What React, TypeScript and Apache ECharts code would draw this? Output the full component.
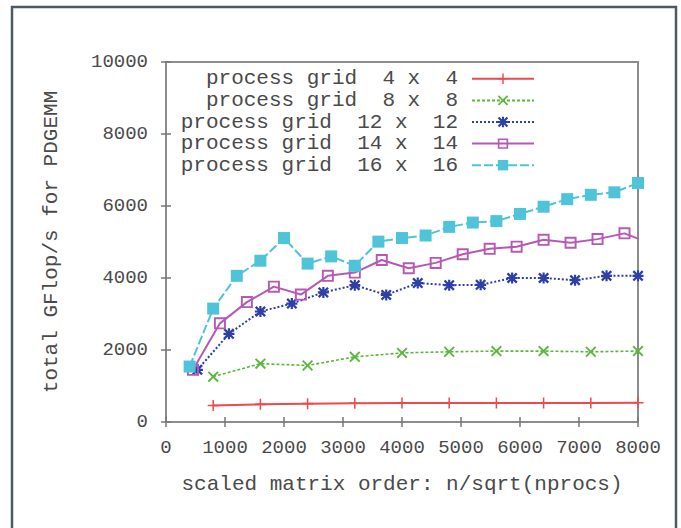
import React, { useEffect, useRef } from "react";
import * as echarts from "echarts";

// Scaled matrix order n/sqrt(nprocs) and total GFlop/s per process grid
const grid4x4X = [800, 1600, 2400, 3200, 4000, 4800, 5600, 6400, 7200, 8000];
const grid4x4Y = [460, 490, 510, 520, 525, 525, 530, 530, 530, 535];

const grid8x8X = [800, 1600, 2400, 3200, 4000, 4800, 5600, 6400, 7200, 8000];
const grid8x8Y = [1260, 1620, 1570, 1810, 1920, 1950, 1970, 1970, 1950, 1970];

const grid12x12X = [533, 1067, 1600, 2133, 2667, 3200, 3733, 4267, 4800, 5333, 5867, 6400, 6933, 7467, 8000];
const grid12x12Y = [1450, 2450, 3070, 3290, 3600, 3800, 3530, 3860, 3800, 3810, 4000, 4000, 3940, 4060, 4060];

const grid14x14X = [457, 914, 1371, 1829, 2286, 2743, 3200, 3657, 4114, 4571, 5029, 5486, 5943, 6400, 6857, 7314, 7771, 8229];
const grid14x14Y = [1450, 2740, 3330, 3760, 3540, 4060, 4150, 4500, 4270, 4420, 4660, 4810, 4870, 5060, 4980, 5080, 5240, 4950];

const grid16x16X = [400, 800, 1200, 1600, 2000, 2400, 2800, 3200, 3600, 4000, 4400, 4800, 5200, 5600, 6000, 6400, 6800, 7200, 7600, 8000];
const grid16x16Y = [1540, 3150, 4060, 4480, 5110, 4400, 4600, 4340, 5010, 5110, 5180, 5420, 5540, 5580, 5780, 5980, 6190, 6310, 6380, 6640];

const seriesNames = [
  "process grid  4 x  4",
  "process grid  8 x  8",
  "process grid  12 x  12",
  "process grid  14 x  14",
  "process grid  16 x  16",
];

const xTitle = "scaled matrix order: n/sqrt(nprocs)";
const yTitle = "total GFlop/s for PDGEMM";

const MONO = "'Liberation Mono', 'DejaVu Sans Mono', monospace";

const pair = (xs: number[], ys: number[]) => xs.map((x, i) => [x, ys[i]]);

// gnuplot-style point glyphs
const PLUS = "path://M4.3,0H5.7V10H4.3ZM0,4.3H10V5.7H0Z";
const CROSS = "path://M0,1.2L1.2,0L5,3.8L8.8,0L10,1.2L6.2,5L10,8.8L8.8,10L5,6.2L1.2,10L0,8.8L3.8,5Z";
const STAR = "path://M0,1.5L1.5,0L5,3.5L8.5,0L10,1.5L6.5,5L10,8.5L8.5,10L5,6.5L1.5,10L0,8.5L3.5,5ZM4,0H6V10H4ZM0,4H10V6H0Z";
const OPEN_SQUARE = "path://M0,0H10V10H0ZM1.6,1.6V8.4H8.4V1.6Z";

export default function App() {
  const ref = useRef<HTMLDivElement>(null);

  useEffect(() => {
    document.body.style.margin = "0";
    if (!ref.current) return;
    const chart = echarts.init(ref.current, null, { renderer: "svg" });

    const mk = (
      idx: number,
      xs: number[],
      ys: number[],
      color: string,
      symbol: string,
      symbolSize: number,
      type: any,
      width: number
    ) => ({
      name: seriesNames[idx],
      type: "line",
      data: pair(xs, ys),
      xAxisIndex: 0,
      yAxisIndex: 0,
      symbol,
      symbolSize,
      showSymbol: true,
      clip: true,
      itemStyle: { color, opacity: 1 },
      lineStyle: { color, width, type },
      emphasis: { disabled: true },
      z: 2 + idx,
    });

    const axisLabelStyle = {
      fontFamily: MONO,
      fontSize: 19,
      color: "#4a4a4a",
      formatter: (v: number) => String(v),
    };

    const tick = { show: true, inside: true, length: 5, lineStyle: { color: "#777", width: 1.5 } };
    const line = { show: true, lineStyle: { color: "#8c8c8c", width: 2 } };

    chart.setOption({
      animation: false,
      backgroundColor: "#ffffff",
      grid: {
        left: 166,
        right: 43,
        top: 62,
        bottom: 106,
        show: true,
        borderColor: "#8c8c8c",
        borderWidth: 2,
        backgroundColor: "transparent",
      },
      graphic: [
        {
          type: "rect",
          shape: { x: 12, y: 7, width: 664, height: 540 },
          style: { fill: "none", stroke: "#4b5b66", lineWidth: 2.5 },
          z: 100,
        },
      ],
      legend: {
        orient: "vertical",
        align: "right",
        right: 146,
        top: 68,
        padding: 0,
        itemGap: 0,
        itemWidth: 62,
        itemHeight: 13,
        selectedMode: false,
        textStyle: {
          fontFamily: MONO,
          fontSize: 21,
          color: "#4a4a4a",
          lineHeight: 21.6,
          padding: [0, 9, 0, 0],
        },
        data: seriesNames,
      },
      xAxis: [
        {
          type: "value",
          position: "bottom",
          min: 0,
          max: 8000,
          interval: 1000,
          name: xTitle,
          nameLocation: "middle",
          nameGap: 52,
          nameTextStyle: { fontFamily: MONO, fontSize: 21, color: "#4a4a4a" },
          axisLine: line,
          axisTick: tick,
          axisLabel: { ...axisLabelStyle, margin: 16 },
          splitLine: { show: false },
        },
        {
          type: "value",
          position: "top",
          min: 0,
          max: 8000,
          interval: 1000,
          axisLine: line,
          axisTick: tick,
          axisLabel: { show: false },
          splitLine: { show: false },
        },
      ],
      yAxis: [
        {
          type: "value",
          position: "left",
          min: 0,
          max: 10000,
          interval: 2000,
          name: yTitle,
          nameLocation: "middle",
          nameGap: 104,
          nameTextStyle: { fontFamily: MONO, fontSize: 21, color: "#4a4a4a" },
          axisLine: line,
          axisTick: tick,
          axisLabel: { ...axisLabelStyle, margin: 18 },
          splitLine: { show: false },
        },
        {
          type: "value",
          position: "right",
          min: 0,
          max: 10000,
          interval: 2000,
          axisLine: line,
          axisTick: tick,
          axisLabel: { show: false },
          splitLine: { show: false },
        },
      ],
      series: [
        mk(0, grid4x4X, grid4x4Y, "#ec4a4f", PLUS, 11, "solid", 2),
        mk(1, grid8x8X, grid8x8Y, "#5bb83c", CROSS, 11, [3, 2], 1.6),
        mk(2, grid12x12X, grid12x12Y, "#2e40a6", STAR, 11, [2, 2], 2),
        mk(3, grid14x14X, grid14x14Y, "#b659b6", OPEN_SQUARE, 12, "solid", 2),
        mk(4, grid16x16X, grid16x16Y, "#4fc4d8", "rect", 12, [9, 3], 2),
      ],
    });

    return () => chart.dispose();
  }, []);

  return <div ref={ref} style={{ width: 681, height: 528 }} />;
}
